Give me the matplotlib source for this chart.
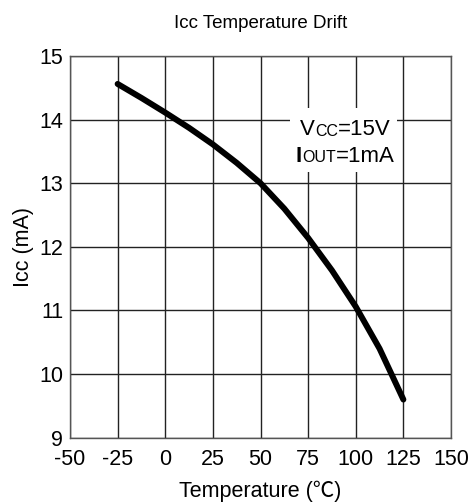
import matplotlib.pyplot as plt

plt.rcParams['font.family'] = ['Liberation Sans', 'Noto Sans CJK SC', 'DejaVu Sans']
plt.rcParams['axes.unicode_minus'] = False

# Icc vs temperature
temp = [-25, -12.5, 0, 12.5, 25, 37.5, 50, 62.5, 75, 87.5, 100, 112.5, 125]
icc = [14.56, 14.34, 14.11, 13.87, 13.61, 13.32, 13.0, 12.60, 12.14, 11.63, 11.06, 10.40, 9.6]

xticks = [-50, -25, 0, 25, 50, 75, 100, 125, 150]
yticks = [9, 10, 11, 12, 13, 14, 15]

fig = plt.figure(figsize=(4.73, 5.04), dpi=100)
ax = fig.add_axes([0.148, 0.1315, 0.8055, 0.7575])

ax.plot(temp, icc, color='black', linewidth=4.3, solid_capstyle='round',
        solid_joinstyle='round', zorder=3)

ax.set_xlim(-50, 150)
ax.set_ylim(9, 15)
ax.set_xticks(xticks)
ax.set_yticks(yticks)
ax.tick_params(length=0, labelsize=15.5)
ax.tick_params(axis='x', pad=8)
ax.tick_params(axis='y', pad=5)
ax.grid(True, color='#222222', linewidth=1.0)
for s in ax.spines.values():
    s.set_color('#555555')
    s.set_linewidth(1.0)

ax.set_title('Icc Temperature Drift', fontsize=13.5, pad=20)
ax.set_xlabel('Temperature (\u2103)', fontsize=15.5, labelpad=8)
ax.set_ylabel('Icc (mA)', fontsize=15.5, labelpad=4)

# condition box, white so the grid is hidden behind it
ax.add_patch(plt.Rectangle((0.577, 0.696), 0.281, 0.168, transform=ax.transAxes,
                           facecolor='white', edgecolor='none', zorder=2))

t1 = ax.text(0.604, 0.793, 'V', transform=ax.transAxes, fontsize=16, va='baseline', zorder=4)
t2 = ax.annotate('CC', xy=(1, 0), xycoords=t1, xytext=(0, 1), textcoords='offset points',
                 fontsize=11.5, va='bottom', zorder=4)
ax.annotate('=15V', xy=(1, 0), xycoords=t2, xytext=(0, -1), textcoords='offset points',
            fontsize=16, va='bottom', zorder=4)

t3 = ax.text(0.593, 0.723, 'I', transform=ax.transAxes, fontsize=16, va='baseline',
             fontweight='bold', zorder=4)
t4 = ax.annotate('OUT', xy=(1, 0), xycoords=t3, xytext=(0, 1), textcoords='offset points',
                 fontsize=11.5, va='bottom', zorder=4)
ax.annotate('=1mA', xy=(1, 0), xycoords=t4, xytext=(0, -1), textcoords='offset points',
            fontsize=16, va='bottom', zorder=4)

plt.savefig('out.png', dpi=100)
